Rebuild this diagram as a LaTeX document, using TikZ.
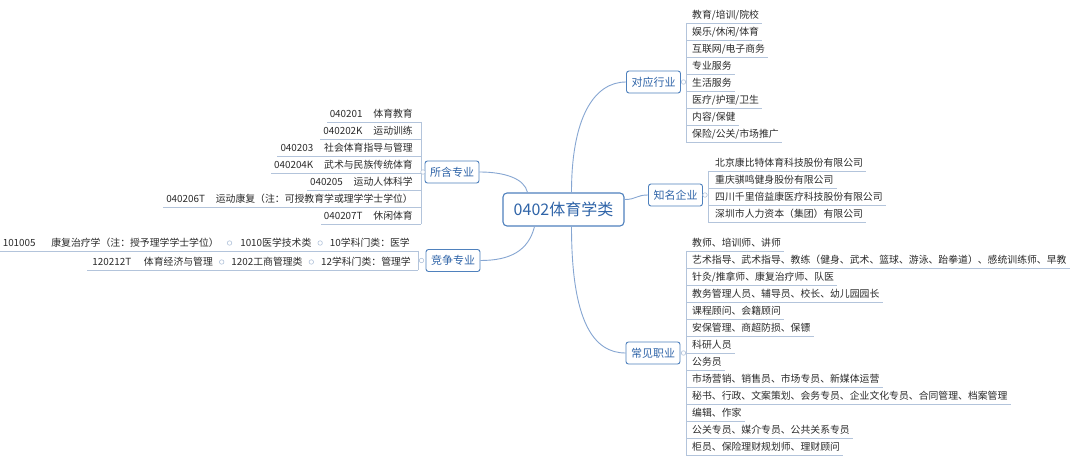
\documentclass[tikz,border=0pt]{standalone}
\usepackage{fontspec}
\setmainfont{Noto Sans CJK SC}
\usetikzlibrary{positioning,calc}
\definecolor{MapBlue}{HTML}{4F81BD}
\definecolor{MapText}{HTML}{2F64A8}
\definecolor{LinkBlue}{HTML}{86A6D2}
\definecolor{RuleGray}{HTML}{B3C4DB}
\definecolor{LeafText}{HTML}{2A2A2A}
\tikzset{
  rootbox/.style={draw=MapBlue, line width=1.1pt, fill=white, rounded corners=4pt,
    minimum width=121pt, minimum height=33pt, inner sep=0pt,
    text=MapText, font=\fontsize{16}{18}\selectfont},
  topicbox/.style={draw=MapBlue, line width=0.9pt, fill=white, rounded corners=2.5pt,
    minimum width=54pt, minimum height=22pt, inner sep=0pt,
    text=MapText, font=\fontsize{11}{13}\selectfont},
  leaf/.style={inner sep=0pt, text=LeafText, font=\fontsize{9.85}{11}\selectfont},
  link/.style={draw=LinkBlue, line width=0.9pt},
  rule/.style={draw=RuleGray, line width=0.8pt},
  knob/.style={circle, draw=RuleGray, fill=white, line width=0.6pt,
    inner sep=0pt, minimum size=4.5pt},
}
\begin{document}
\begin{tikzpicture}[x=1pt,y=-1pt]
\path[use as bounding box, fill=white] (0,0) rectangle (1080,462);

% centre
\node[rootbox] (root) at (563.5,209.5) {0402体育学类};

% main topics
\node[topicbox] (ind)  at (653.5,82)  {对应行业};
\node[topicbox] (firm) at (675.5,195) {知名企业};
\node[topicbox] (job)  at (653,353)   {常见职业};
\node[topicbox] (maj)  at (452,172)   {所含专业};
\node[topicbox] (comp) at (453,260.5) {竞争专业};

% links to the centre
\draw[link] ([xshift=8pt]root.north) .. controls +(0,-75) and +(-32,0) .. (ind.west);
\draw[link] ([yshift=10pt]root.east) .. controls +(12,0) and +(-12,0) .. (firm.west);
\draw[link] ([xshift=8pt]root.south) .. controls +(0,95) and +(-32,0) .. (job.west);
\draw[link] ([xshift=-36pt]root.north) .. controls +(-3,-14) and +(25,0) .. (maj.east);
\draw[link] ([xshift=-29pt]root.south) .. controls +(-6,24) and +(30,0) .. (comp.east);

% industries
\draw[rule] (686,23) -- (686,142);
\foreach \txt [count=\i] in {教育/培训/院校, 娱乐/休闲/体育, 互联网/电子商务, 专业服务,
    生活服务, 医疗/护理/卫生, 内容/保健, 保险/公关/市场推广}{
  \pgfmathsetmacro\y{15+17*(\i-1)}
  \node[leaf, anchor=west] (ind\i) at (692,\y) {\txt};
  \draw[rule] (686,\y+8) -- ($(ind\i.east)+(3,8)$);
}
\node[knob] (indknob) at (683.5,82) {};

% companies
\draw[rule] (708,171) -- (708,222);
\foreach \txt [count=\i] in {北京康比特体育科技股份有限公司, 重庆骐鸣健身股份有限公司,
    四川千里倍益康医疗科技股份有限公司, 深圳市人力资本（集团）有限公司}{
  \pgfmathsetmacro\y{163+17*(\i-1)}
  \node[leaf, anchor=west] (firm\i) at (715,\y) {\txt};
  \draw[rule] (708,\y+8) -- ($(firm\i.east)+(3,8)$);
}
\node[knob] (firmknob) at (705,195) {};

% jobs
\draw[rule] (686,251) -- (686,455);
\foreach \txt [count=\i] in {教师、培训师、讲师,
    艺术指导、武术指导、教练（健身、武术、篮球、游泳、跆拳道）、感统训练师、早教,
    针灸/推拿师、康复治疗师、队医, 教务管理人员、辅导员、校长、幼儿园园长,
    课程顾问、会籍顾问, 安保管理、商超防损、保镖, 科研人员, 公务员,
    市场营销、销售员、市场专员、新媒体运营,
    秘书、行政、文案策划、会务专员、企业文化专员、合同管理、档案管理,
    编辑、作家, 公关专员、媒介专员、公共关系专员, 柜员、保险理财规划师、理财顾问}{
  \pgfmathsetmacro\y{243+17*(\i-1)}
  \node[leaf, anchor=west] (job\i) at (692,\y) {\txt};
  \draw[rule] (686,\y+8) -- ($(job\i.east)+(3,8)$);
}
\node[knob] (jobknob) at (683.5,353) {};

% majors
\draw[rule] (421,122) -- (421,224);
\foreach \code/\name [count=\i] in {040201/体育教育, 040202K/运动训练,
    040203/社会体育指导与管理, 040204K/武术与民族传统体育, 040205/运动人体科学,
    040206T/运动康复（注：可授教育学或理学学士学位）, 040207T/休闲体育}{
  \pgfmathsetmacro\y{114+17*(\i-1)}
  \node[leaf, anchor=east] (maj\i) at (413,\y) {\code\hspace{1.1em}\name};
  \draw[rule] (421,\y+8) -- ($(maj\i.west)+(-3,8)$);
}
\node[knob] (majknob) at (423,172) {};

% competing majors
\draw[rule] (418,251) -- (418,270);
\node[leaf, anchor=east] (compc1) at (410,243) {10学科门类：医学};
\node[knob, left=7pt of compc1] (compk1) {};
\node[leaf, left=6pt of compk1] (compb1) {1010医学技术类};
\node[knob, left=8pt of compb1] (compk2) {};
\node[leaf, left=8pt of compk2] (compa1) {101005\hspace{1.6em}康复治疗学（注：授予理学学士学位）};
\draw[rule] (418,251) -- ($(compa1.west)+(-5,8)$);
\node[leaf, anchor=east] (compc2) at (411,262) {12学科门类：管理学};
\node[knob, left=7pt of compc2] (compk3) {};
\node[leaf, left=6pt of compk3] (compb2) {1202工商管理类};
\node[knob, left=7pt of compb2] (compk4) {};
\node[leaf, left=6pt of compk4] (compa2) {120212T\hspace{1.3em}体育经济与管理};
\draw[rule] (418,270) -- ($(compa2.west)+(-5,8)$);
\node[knob] (compknob) at (421.5,260.5) {};
\end{tikzpicture}
\end{document}
